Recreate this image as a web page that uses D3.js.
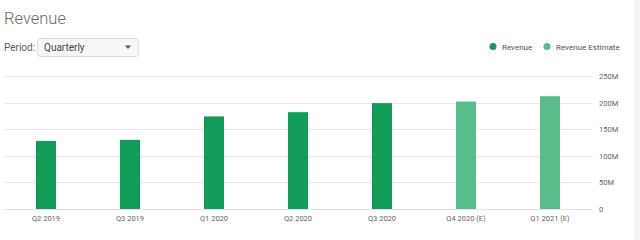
<!DOCTYPE html>
<html><head><meta charset="utf-8">
<script src="https://cdn.jsdelivr.net/npm/d3@7"></script>
<style>
html,body{margin:0;padding:0;background:#fff;}
svg{display:block;font-family:Roboto,"Noto Sans",sans-serif;}
</style></head>
<body>
<svg id="c" width="640" height="240"></svg>
<script>
const categories = ["Q2 2019","Q3 2019","Q1 2020","Q2 2020","Q3 2020","Q4 2020 (E)","Q1 2021 (E)"];
const revenue = [128, 130, 174, 182, 199, null, null];
const estimate = [null, null, null, null, null, 202, 212];
const yTicks = [0, 50, 100, 150, 200, 250];
const tickLabels = ["0","50M","100M","150M","200M","250M"];
const legendLabels = ["Revenue","Revenue Estimate"];
const colors = ["#139c59","#58bd8b"];
const FONT = "Roboto,'Noto Sans',sans-serif";

const svg = d3.select("#c");
svg.append("rect").attr("x",634).attr("y",0).attr("width",6).attr("height",240).attr("fill","#f4f5f8");

svg.append("text").attr("x",4).attr("y",24).text("Revenue")
  .attr("font-size",16.5).attr("fill","#6b6b6b").attr("font-weight",300);

svg.append("text").attr("x",4).attr("y",51).text("Period:")
  .attr("font-size",10).attr("fill","#5a5a5a");
svg.append("rect").attr("x",37.5).attr("y",38.5).attr("width",101).attr("height",18).attr("rx",3)
  .attr("fill","#f7f7f8").attr("stroke","#dddddd");
svg.append("text").attr("x",44).attr("y",51).text("Quarterly").attr("font-size",10).attr("fill","#444");
svg.append("path").attr("d","M125,45.5 L131,45.5 L128,49 Z").attr("fill","#555");

const x = d3.scaleBand().domain(categories).range([4,592]).paddingInner(0.762).paddingOuter(0.381);
const y = d3.scaleLinear().domain([0,250]).range([209,76]);

svg.append("g").selectAll("line").data(yTicks).join("line")
  .attr("x1",4).attr("x2",592).attr("y1",d=>Math.round(y(d))+0.5).attr("y2",d=>Math.round(y(d))+0.5)
  .attr("stroke",d=>d===0?"#dfe3ee":"#e8e8e8").attr("stroke-width",1);

const yAxis = d3.axisRight(y).tickValues(yTicks).tickFormat((d,i)=>tickLabels[i]).tickSize(0).tickPadding(0);
const ga = svg.append("g").attr("transform","translate(599,0)").call(yAxis);
ga.select(".domain").remove();
ga.selectAll("text").attr("font-size",7.5).attr("fill","#666").attr("font-family",FONT);

const xAxis = d3.axisBottom(x).tickSize(0).tickPadding(0);
const gx = svg.append("g").attr("transform","translate(0,216)").call(xAxis);
gx.select(".domain").remove();
gx.selectAll("text").attr("font-size",7.5).attr("fill","#666").attr("font-family",FONT);

const series = [revenue, estimate];
series.forEach((vals,si)=>{
  svg.append("g").selectAll("rect").data(categories.map((c,i)=>({c,v:vals[i]})).filter(d=>d.v!=null)).join("rect")
    .attr("x",d=>x(d.c)).attr("width",x.bandwidth())
    .attr("y",d=>y(d.v)).attr("height",d=>y(0)-y(d.v))
    .attr("fill",colors[si]);
});

const legX = [493, 547];
legendLabels.forEach((l,i)=>{
  svg.append("circle").attr("cx",legX[i]).attr("cy",46.5).attr("r",3.5).attr("fill",colors[i]);
  svg.append("text").attr("x",legX[i]+9).attr("y",49.5).text(l).attr("font-size",8).attr("fill","#555");
});
</script>
</body></html>
